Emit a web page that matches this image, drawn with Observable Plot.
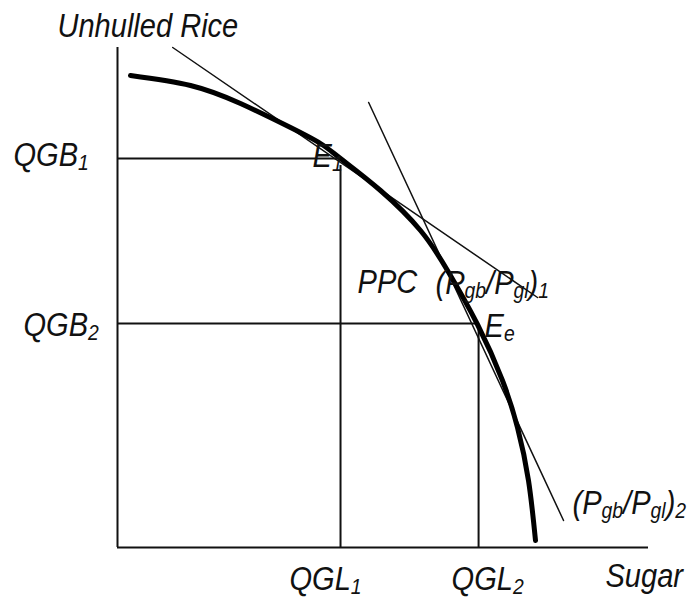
<!DOCTYPE html>
<html><head><meta charset="utf-8">
<script src="https://cdn.jsdelivr.net/npm/d3@7"></script>
<script src="https://cdn.jsdelivr.net/npm/@observablehq/plot@0.6"></script>
<style>body{margin:0;background:#fff}</style>
</head><body><div id="chart"></div>
<script>
// Production possibility curve (Sugar on x, Unhulled Rice on y), arbitrary units 0–100
const ppcX = [2.45, 13.75, 23.16, 32.58, 38.23, 42.0, 49.53, 57.06, 62.15, 67.8, 72.5, 75.33, 77.4, 78.72];
const ppcY = [94.4, 92.4, 88.8, 84.0, 80.8, 77.8, 71.4, 63.4, 55.4, 44.6, 33.4, 24.0, 13.4, 1.4];
// price ratio lines (Pgb/Pgl)1 and (Pgb/Pgl)2
const price1X = [10.4, 79.1];
const price1Y = [100, 50];
const price2X = [47.3, 84.0];
const price2Y = [89, 5.4];
// equilibrium quantities
const qglValues = [42.0, 68.0];
const qgbValues = [77.8, 44.8];
const qglLabels = ["QGL_1", "QGL_2"];
const qgbLabels = ["QGB_1", "QGB_2"];
const eqLabels = ["E_1", "E_e"];
const axisLabels = ["Unhulled Rice", "Sugar"];
const curveLabels = ["PPC", "(P_gb/P_gl)_1", "(P_gb/P_gl)_2"];

const ppc = ppcX.map((x, i) => ({x, y: ppcY[i]}));
const p1 = price1X.map((x, i) => ({x, y: price1Y[i]}));
const p2 = price2X.map((x, i) => ({x, y: price2Y[i]}));

const font = {fontSize: 33, fontStyle: "italic", fontFamily: "'Liberation Sans', Arial, sans-serif", fill: "#111", lineAnchor: "bottom", textAnchor: "start"};
const label = (x, y, text, dx, dy) => Plot.text([{x, y, text}], {x: "x", y: "y", text: "text", dx, dy, ...font});

const ink = "#111";
const chart = Plot.plot({
  width: 692, height: 599,
  marginLeft: 117, marginRight: 44, marginTop: 47, marginBottom: 52,
  x: {domain: [0, 100], axis: null},
  y: {domain: [0, 100], axis: null},
  marks: [
    // axes
    Plot.ruleX([0], {y1: 0, y2: 100, stroke: ink, strokeWidth: 2}),
    Plot.ruleY([0], {x1: 0, x2: 100, stroke: ink, strokeWidth: 2}),
    // guide lines
    Plot.ruleY(qgbValues, {x1: 0, x2: (d, i) => qglValues[i], stroke: ink, strokeWidth: 2}),
    Plot.ruleX(qglValues, {y1: 0, y2: (d, i) => qgbValues[i] - 1.4, stroke: ink, strokeWidth: 2}),
    // price lines
    Plot.line(p1, {x: "x", y: "y", stroke: ink, strokeWidth: 1.5}),
    Plot.line(p2, {x: "x", y: "y", stroke: ink, strokeWidth: 1.5}),
    // PPC
    Plot.line(ppc, {x: "x", y: "y", curve: "natural", stroke: "#000", strokeWidth: 5}),
    // labels
    label(0, 100, axisLabels[0], -60, -11),
    label(100, 0, axisLabels[1], -43, 39),
    label(0, qgbValues[0], qgbLabels[0], -104, 7),
    label(0, qgbValues[1], qgbLabels[1], -94, 12),
    label(qglValues[0], 0, qglLabels[0], -51, 42),
    label(qglValues[1], 0, qglLabels[1], -27, 42),
    label(qglValues[0], qgbValues[0], eqLabels[0], -28, 8),
    label(qglValues[1], qgbValues[1], eqLabels[1], 6, 13),
    label(qglValues[1], qgbValues[1], curveLabels[0], -121, -31),
    label(price1X[1], price1Y[1], curveLabels[1], -102, -4),
    label(price2X[1], price2Y[1], curveLabels[2], 9, -7)
  ]
});

function subscriptify(svg) {
  const ns = "http://www.w3.org/2000/svg";
  svg.querySelectorAll("text").forEach(t => {
    const s = t.textContent;
    if (s.includes("_")) {
      while (t.firstChild) t.removeChild(t.firstChild);
      const re = /_([A-Za-z0-9]+)/g;
      let last = 0, m, shift = 0;
      const add = (str, sub) => {
        const sp = document.createElementNS(ns, "tspan");
        sp.textContent = str;
        if (sub) {
          sp.setAttribute("font-size", "22");
          if (shift === 0) { sp.setAttribute("dy", "4"); shift = 4; }
        } else if (shift) {
          sp.setAttribute("dy", String(-shift)); shift = 0;
        }
        t.appendChild(sp);
      };
      while ((m = re.exec(s))) {
        if (m.index > last) add(s.slice(last, m.index), false);
        add(m[1], true);
        last = re.lastIndex;
      }
      if (last < s.length) add(s.slice(last), false);
    }
    // the reference lettering is slightly condensed: append a horizontal squeeze
    const tr = t.getAttribute("transform") || "";
    t.setAttribute("transform", (tr + " scale(0.88,1)").trim());
  });
}
subscriptify(chart);
document.getElementById("chart").appendChild(chart);
</script>
</body></html>
